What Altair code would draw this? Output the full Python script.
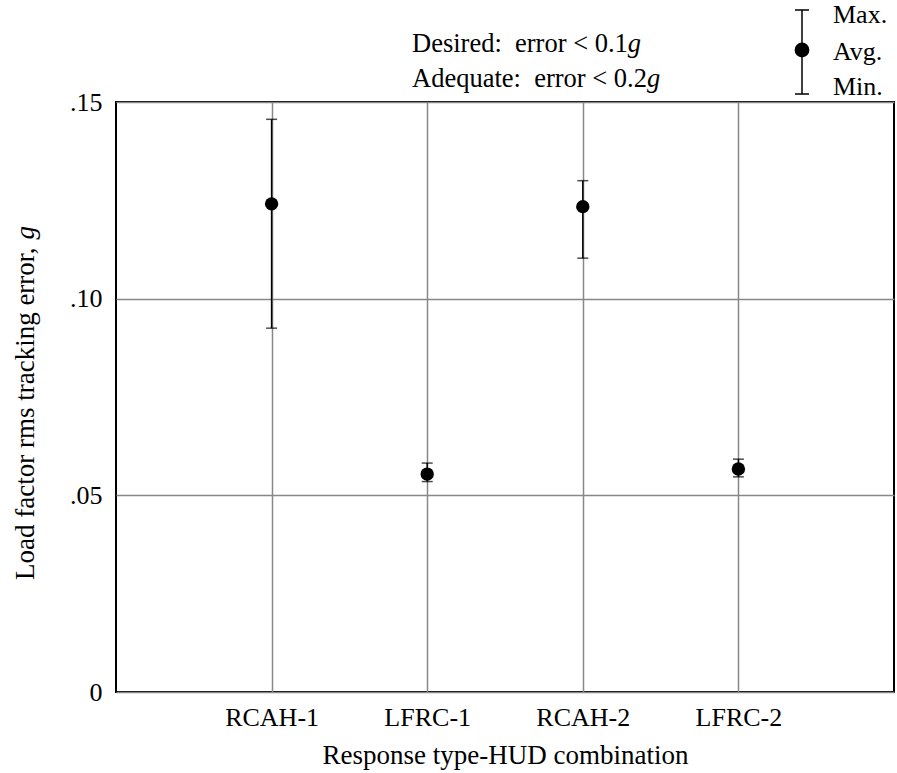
import altair as alt
import pandas as pd

categories = ["RCAH-1", "LFRC-1", "RCAH-2", "LFRC-2"]
positions = [1, 2, 3, 4]
avg_vals = [0.1241, 0.0554, 0.1234, 0.0567]
max_vals = [0.1456, 0.0582, 0.1300, 0.0592]
min_vals = [0.0925, 0.0535, 0.1103, 0.0547]

df = pd.DataFrame({"cat": categories, "pos": positions, "avg": avg_vals,
                   "mx": max_vals, "mn": min_vals})

FONT = "Liberation Serif"
FS = 26
NB = "\u00a0"

label_expr = "datum.value == 1 ? 'RCAH-1' : datum.value == 2 ? 'LFRC-1' : datum.value == 3 ? 'RCAH-2' : 'LFRC-2'"
y_label_expr = "datum.value == 0 ? '0' : replace(format(datum.value, '.2f'), '0.', '.')"

xscale = alt.Scale(domain=[0, 5], nice=False, zero=False)
yscale = alt.Scale(domain=[0, 0.15], nice=False)

base = alt.Chart(df)

xenc = alt.X("pos:Q", scale=xscale,
             axis=alt.Axis(values=positions, labelExpr=label_expr, title="Response type-HUD combination",
                           grid=True, ticks=False, domain=False, labelPadding=12, titlePadding=12,
                           titleFontSize=27, labelFlush=False))
yenc = alt.Y("avg:Q", scale=yscale,
             axis=alt.Axis(values=[0, 0.05, 0.10, 0.15], labelExpr=y_label_expr, title=None,
                           grid=True, ticks=False, domain=False, labelPadding=14))

points = base.mark_point(filled=True, shape="circle", size=180, color="black", opacity=1).encode(x=xenc, y=yenc)
rules = base.mark_rule(color="black", strokeWidth=1.5).encode(x="pos:Q", y="mn:Q", y2="mx:Q")
cap_hi = base.mark_tick(orient="horizontal", size=11, thickness=1.5, color="black").encode(x="pos:Q", y="mx:Q")
cap_lo = base.mark_tick(orient="horizontal", size=11, thickness=1.5, color="black").encode(x="pos:Q", y="mn:Q")

one = pd.DataFrame({"a": [0]})


def txt(s, x, y, size=FS, align="left", italic=False, angle=0):
    return alt.Chart(one).mark_text(text=s, font=FONT, fontSize=size, align=align, baseline="alphabetic",
                                    fontStyle="italic" if italic else "normal", angle=angle,
                                    color="black").encode(x=alt.value(x), y=alt.value(y))


# Times-metric widths (em) of the roman parts, so the italic g follows them directly
AS = 26.5
w_des = 8.145 * AS
w_ade = 8.867 * AS
TS = 27
w_yt = 12.607 * TS

annot = [
    txt("Desired:" + NB + NB + "error" + NB + "<" + NB + "0.1", 296, -50, size=AS),
    txt("g", 296 + w_des, -50, size=AS, italic=True),
    txt("Adequate:" + NB + NB + "error" + NB + "<" + NB + "0.2", 296, -15, size=AS),
    txt("g", 296 + w_ade, -15, size=AS, italic=True),
    txt("Max.", 717, -79),
    txt("Avg.", 717, -42),
    txt("Min.", 717, -7),
    txt("Load" + NB + "factor" + NB + "rms" + NB + "tracking" + NB + "error," + NB, -82, 478, size=TS, angle=270),
    txt("g", -82, 478 - w_yt, size=TS, italic=True, angle=270),
]

leg_rule = alt.Chart(one).mark_rule(color="black", strokeWidth=1.5).encode(
    x=alt.value(686), y=alt.value(-92), y2=alt.value(-8))
leg_cap1 = alt.Chart(one).mark_rule(color="black", strokeWidth=1.5).encode(
    x=alt.value(679), x2=alt.value(693), y=alt.value(-92))
leg_cap2 = alt.Chart(one).mark_rule(color="black", strokeWidth=1.5).encode(
    x=alt.value(679), x2=alt.value(693), y=alt.value(-8))
leg_dot = alt.Chart(one).mark_point(filled=True, shape="circle", size=218, color="black", opacity=1).encode(
    x=alt.value(686), y=alt.value(-52))

chart = alt.layer(points, rules, cap_hi, cap_lo, leg_rule, leg_cap1, leg_cap2, leg_dot, *annot).properties(
    width=778, height=590,
    autosize=alt.AutoSizeParams(type="none"),
    padding={"left": 116, "top": 102, "right": 3, "bottom": 81},
    background="white",
).configure_view(stroke="black", strokeWidth=2).configure_axis(
    labelFont=FONT, titleFont=FONT, labelFontSize=FS, titleFontSize=FS,
    labelColor="black", titleColor="black", titleFontWeight="normal",
    gridColor="#888888", gridWidth=1.5, gridOpacity=1,
)

chart.save("out.html", embed_options={"renderer": "svg", "actions": False})
